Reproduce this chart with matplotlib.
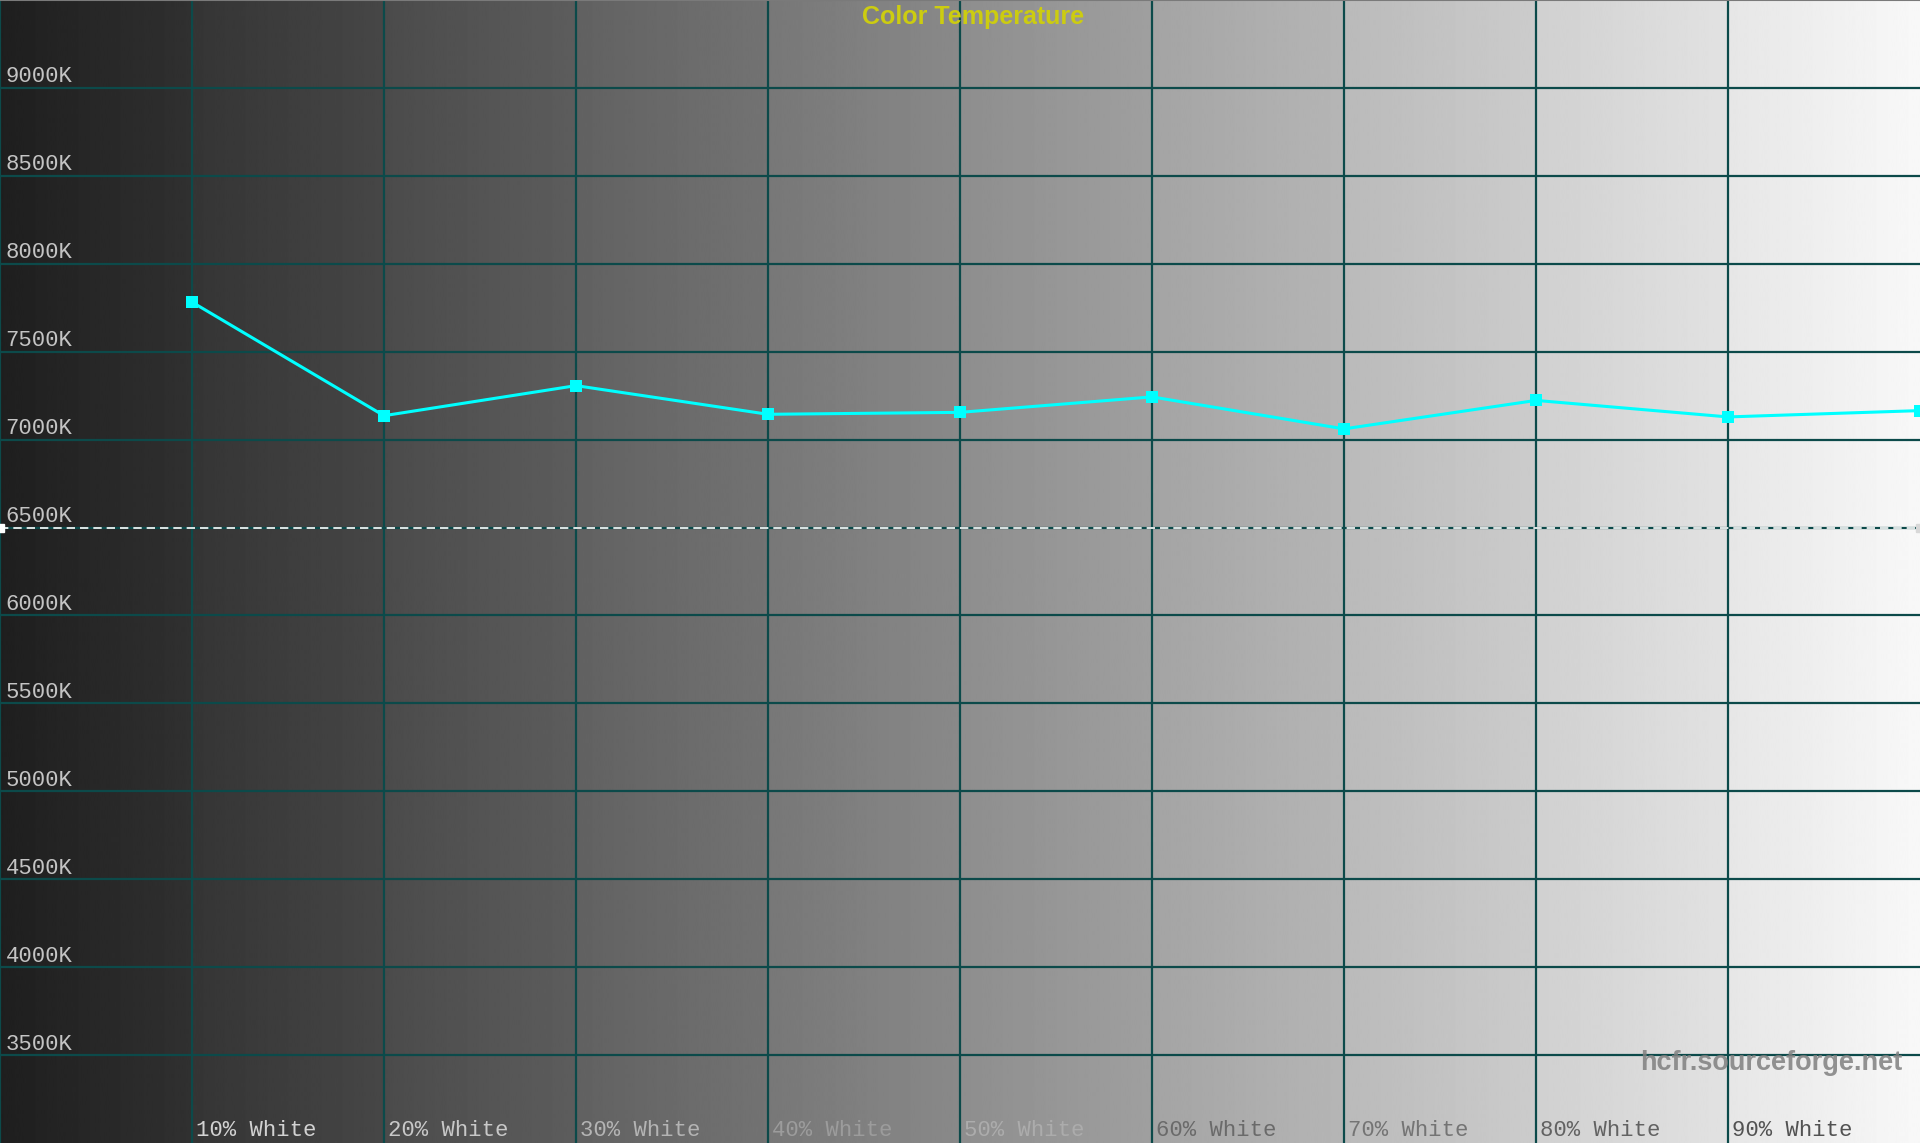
import numpy as np
import matplotlib.pyplot as plt

# measured color temperature per grey step (K)
steps = [1, 2, 3, 4, 5, 6, 7, 8, 9, 10]
temps = [7782, 7136, 7307, 7144, 7155, 7243, 7061, 7223, 7129, 7165]
step_labels = ["10% White", "20% White", "30% White", "40% White", "50% White",
               "60% White", "70% White", "80% White", "90% White"]
y_ticks = [3500, 4000, 4500, 5000, 5500, 6000, 6500, 7000, 7500, 8000, 8500, 9000]
y_tick_labels = ["%dK" % t for t in y_ticks]
target = 6500

label_colors = ['#d2d2d2', '#c8c8c8', '#b4b4b4', '#9c9c9c', '#acacac',
                '#6a6a6a', '#747474', '#626262', '#525252']

GRID = '#0c4a4a'
MONO = 'Liberation Mono'

fig = plt.figure(figsize=(19.2, 11.43), dpi=100)
ax = fig.add_axes([0, 0, 1, 1])
ax.set_xlim(0, 10)
ax.set_ylim(3000, 9500)
ax.axis('off')

# stepped grey ramp behind the grid
xs = np.linspace(0, 10, 2000, endpoint=False)
shade = 0.12 + 0.087 * np.floor(xs) + 0.07 * (xs - np.floor(xs))
ax.imshow(shade[np.newaxis, :], extent=[0, 10, 3000, 9500], aspect='auto',
          cmap='gray', vmin=0, vmax=1, interpolation='bilinear', zorder=0)

for t in y_ticks:
    ax.axhline(t, color=GRID, lw=1.6, zorder=1)
for s in range(0, 10):
    ax.axvline(s, color=GRID, lw=1.6, zorder=1)
ax.axhline(9500, color='#7a7a7a', lw=1.5, zorder=1)

# reference line at D65
ax.axhline(target, color='white', lw=1.2, ls=(0, (5, 3)), zorder=2)
ax.plot([0], [target], 's', color='white', ms=6, zorder=3, clip_on=False)
ax.plot([10], [target], 's', color='#d8d8d8', ms=6, zorder=3, clip_on=True)

ax.plot(steps, temps, color='#00ffff', lw=2.2, marker='s', ms=9,
        markeredgewidth=0, zorder=4)

for t, lab in zip(y_ticks, y_tick_labels):
    ax.annotate(lab, xy=(0, t), xytext=(4, 4), textcoords='offset points',
                ha='left', va='baseline', fontsize=16, family=MONO,
                color='#c4c4c4', zorder=5)

for s, lab, c in zip(steps, step_labels, label_colors):
    ax.annotate(lab, xy=(s, 3000), xytext=(3, 5), textcoords='offset points',
                ha='left', va='baseline', fontsize=16, family=MONO,
                color=c, zorder=5)

ax.text(0.507, 0.996, "Color Temperature", transform=ax.transAxes,
        ha='center', va='top', fontsize=18, fontweight='bold',
        family='Liberation Sans', color='#cccc10', zorder=5)

ax.text(0.991, 0.07, "hcfr.sourceforge.net", transform=ax.transAxes,
        ha='right', va='center', fontsize=19.5, fontweight='bold',
        family='Liberation Sans', color='#808080', alpha=0.85, zorder=5)

fig.savefig('out.png', dpi=100)
